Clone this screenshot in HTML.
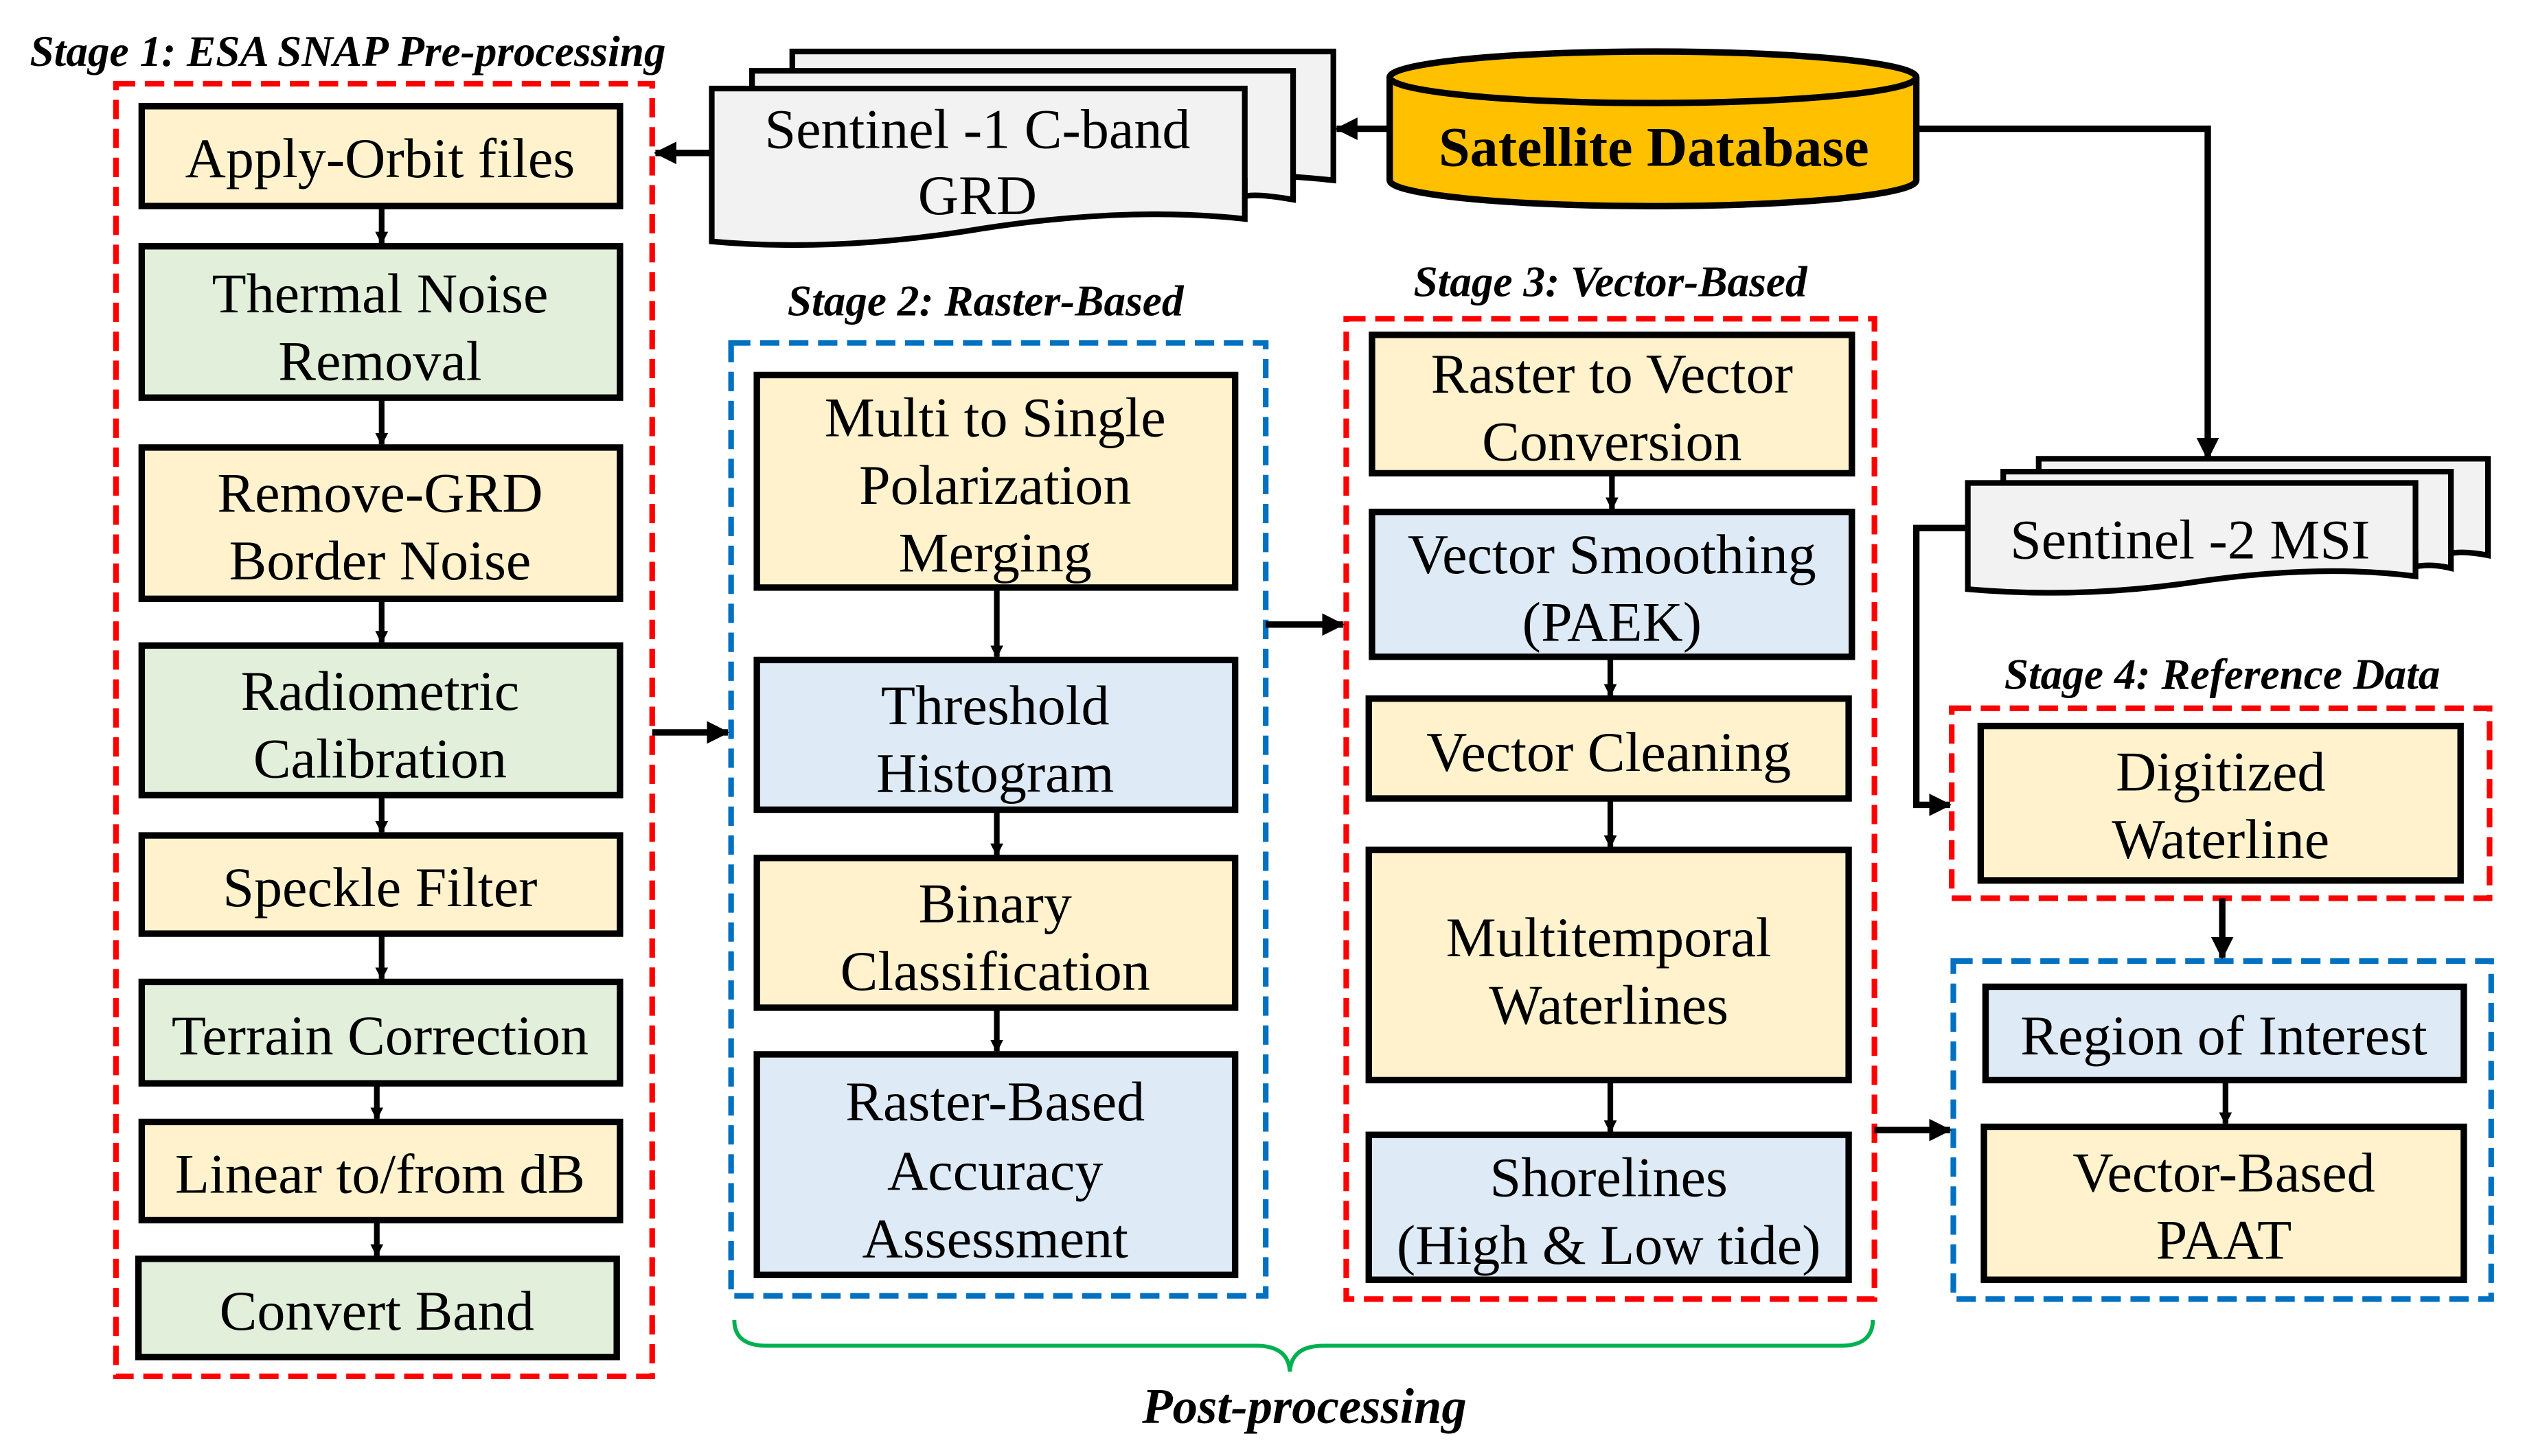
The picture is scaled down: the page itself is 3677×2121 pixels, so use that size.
<!DOCTYPE html>
<html><head><meta charset="utf-8"><style>html,body{margin:0;padding:0;background:#fff}svg{display:block}
text{font-family:"Liberation Serif",serif}</style></head><body>
<svg width="3677" height="2121" viewBox="0 0 1568 904.5" preserveAspectRatio="none" xmlns="http://www.w3.org/2000/svg">
<defs><marker id="a" markerWidth="8" markerHeight="8" refX="7" refY="4" orient="auto" markerUnits="userSpaceOnUse" viewBox="0 0 8 8"><path d="M0,0 L8,4 L0,8 Z" fill="#000"/></marker>
<marker id="b" markerWidth="14" markerHeight="14" refX="13" refY="7" orient="auto" markerUnits="userSpaceOnUse" viewBox="0 0 14 14"><path d="M0,0 L14,7 L0,14 Z" fill="#000"/></marker></defs>
<g font-style="italic" font-weight="bold" font-size="27" text-anchor="middle">
<text x="216" y="41">Stage 1: ESA SNAP Pre-processing</text>
<text x="612" y="196">Stage 2: Raster-Based</text>
<text x="1000" y="184">Stage 3: Vector-Based</text>
<text x="1380" y="428">Stage 4: Reference Data</text>
<text x="810" y="884" font-size="31">Post-processing</text>
</g>
<g fill="none" stroke-width="3.5" stroke-dasharray="12,6">
<rect x="72" y="52" width="333" height="803" stroke="#f00"/>
<rect x="454" y="213" width="332" height="592" stroke="#0070C0"/>
<rect x="836" y="198" width="328" height="609" stroke="#f00"/>
<rect x="1212" y="440" width="334" height="118" stroke="#f00"/>
<rect x="1213" y="597" width="334" height="210" stroke="#0070C0"/>
</g>
<g stroke="#000" stroke-width="4">
<rect x="88" y="66" width="297" height="62" fill="#FFF2CC"/>
<rect x="88" y="153" width="297" height="94" fill="#E2EFDA"/>
<rect x="88" y="278" width="297" height="94" fill="#FFF2CC"/>
<rect x="88" y="401" width="297" height="93" fill="#E2EFDA"/>
<rect x="88" y="519" width="297" height="61" fill="#FFF2CC"/>
<rect x="88" y="610" width="297" height="63" fill="#E2EFDA"/>
<rect x="88" y="697" width="297" height="61" fill="#FFF2CC"/>
<rect x="86" y="782" width="297" height="61" fill="#E2EFDA"/>
<rect x="470" y="233" width="297" height="132" fill="#FFF2CC"/>
<rect x="470" y="410" width="297" height="93" fill="#DEEBF7"/>
<rect x="470" y="533" width="297" height="93" fill="#FFF2CC"/>
<rect x="470" y="655" width="297" height="137" fill="#DEEBF7"/>
<rect x="852" y="208" width="298" height="86" fill="#FFF2CC"/>
<rect x="852" y="318" width="298" height="90" fill="#DEEBF7"/>
<rect x="850" y="434" width="298" height="62" fill="#FFF2CC"/>
<rect x="850" y="528" width="298" height="143" fill="#FFF2CC"/>
<rect x="850" y="705" width="298" height="90" fill="#DEEBF7"/>
<rect x="1230" y="451" width="298" height="96" fill="#FFF2CC"/>
<rect x="1233" y="613" width="297" height="58" fill="#DEEBF7"/>
<rect x="1232" y="700" width="298" height="95" fill="#FFF2CC"/>
</g>
<g stroke="#000" stroke-width="3.5" fill="#F2F2F2">
<path d="M492,32 H828 V112 Q790,108 780,110 V100 H492 Z"/>
<path d="M467,44 H803 V124 Q780,120 773,122 V112 H467 Z"/>
<path d="M442,55 H773 V136 Q700,128 610,142 Q520,157 442,150 Z"/>
<path d="M1266,285 H1545 V345 Q1530,342 1520,344 V335 H1266 Z"/>
<path d="M1244,293 H1522 V353 Q1510,350 1500,352 V343 H1244 Z"/>
<path d="M1222,300 H1500 V358 Q1440,350 1360,362 Q1290,372 1222,366 Z"/>
</g>
<path d="M863,48 V112 A163,16 0 0 0 1190,112 V48" fill="#FFC000" stroke="#000" stroke-width="4"/>
<ellipse cx="1026.5" cy="48" rx="163.5" ry="16" fill="#FFC000" stroke="#000" stroke-width="4"/>
<g font-size="35" text-anchor="middle">
<text x="607" y="92">Sentinel -1 C-band</text><text x="607" y="133">GRD</text>
<text x="1027" y="103" font-weight="bold" font-size="35">Satellite Database</text>
<text x="1360" y="347">Sentinel -2 MSI</text>
<text x="236" y="110">Apply-Orbit files</text>
<text x="236" y="194">Thermal Noise</text><text x="236" y="236">Removal</text>
<text x="236" y="318">Remove-GRD</text><text x="236" y="360">Border Noise</text>
<text x="236" y="441">Radiometric</text><text x="236" y="483">Calibration</text>
<text x="236" y="563">Speckle Filter</text>
<text x="236" y="655">Terrain Correction</text>
<text x="236" y="741">Linear to/from dB</text>
<text x="234" y="826">Convert Band</text>
<text x="618" y="271">Multi to Single</text><text x="618" y="313">Polarization</text><text x="618" y="355">Merging</text>
<text x="618" y="450">Threshold</text><text x="618" y="492">Histogram</text>
<text x="618" y="573">Binary</text><text x="618" y="615">Classification</text>
<text x="618" y="696">Raster-Based</text><text x="618" y="739">Accuracy</text><text x="618" y="781">Assessment</text>
<text x="1001" y="244">Raster to Vector</text><text x="1001" y="286">Conversion</text>
<text x="1001" y="356">Vector Smoothing</text><text x="1001" y="398">(PAEK)</text>
<text x="999" y="479">Vector Cleaning</text>
<text x="999" y="594">Multitemporal</text><text x="999" y="636">Waterlines</text>
<text x="999" y="743">Shorelines</text><text x="999" y="785">(High &amp; Low tide)</text>
<text x="1379" y="491">Digitized</text><text x="1379" y="533">Waterline</text>
<text x="1381" y="655">Region of Interest</text>
<text x="1381" y="740">Vector-Based</text><text x="1381" y="782">PAAT</text>
</g>
<g stroke="#000" stroke-width="3.5" fill="none" marker-end="url(#a)">
<line x1="237" y1="128" x2="237" y2="151"/>
<line x1="237" y1="247" x2="237" y2="276"/>
<line x1="237" y1="372" x2="237" y2="399"/>
<line x1="237" y1="494" x2="237" y2="517"/>
<line x1="237" y1="580" x2="237" y2="608"/>
<line x1="234" y1="673" x2="234" y2="695"/>
<line x1="234" y1="758" x2="234" y2="780"/>
<line x1="619" y1="365" x2="619" y2="408"/>
<line x1="619" y1="503" x2="619" y2="531"/>
<line x1="619" y1="626" x2="619" y2="653"/>
<line x1="1001" y1="294" x2="1001" y2="316"/>
<line x1="1000" y1="408" x2="1000" y2="432"/>
<line x1="1000" y1="496" x2="1000" y2="526"/>
<line x1="1000" y1="671" x2="1000" y2="703"/>
<line x1="1382" y1="671" x2="1382" y2="698"/>
</g>
<g stroke="#000" stroke-width="4" fill="none" marker-end="url(#b)">
<line x1="442" y1="95" x2="407" y2="95"/>
<line x1="863" y1="80" x2="830" y2="80"/>
<polyline points="1190,80 1371,80 1371,285"/>
<polyline points="1222,328 1190,328 1190,500 1211,500"/>
<line x1="405" y1="455" x2="452" y2="455"/>
<line x1="786" y1="388" x2="834" y2="388"/>
<line x1="1164" y1="702" x2="1211" y2="702"/>
<line x1="1380" y1="558" x2="1380" y2="595"/>
</g>
<path d="M456,820 Q456,836 476,836 H780 Q800,836 801,852 Q802,836 822,836 H1143 Q1163,836 1163,820" fill="none" stroke="#00B050" stroke-width="2.5"/>
</svg>
</body></html>
